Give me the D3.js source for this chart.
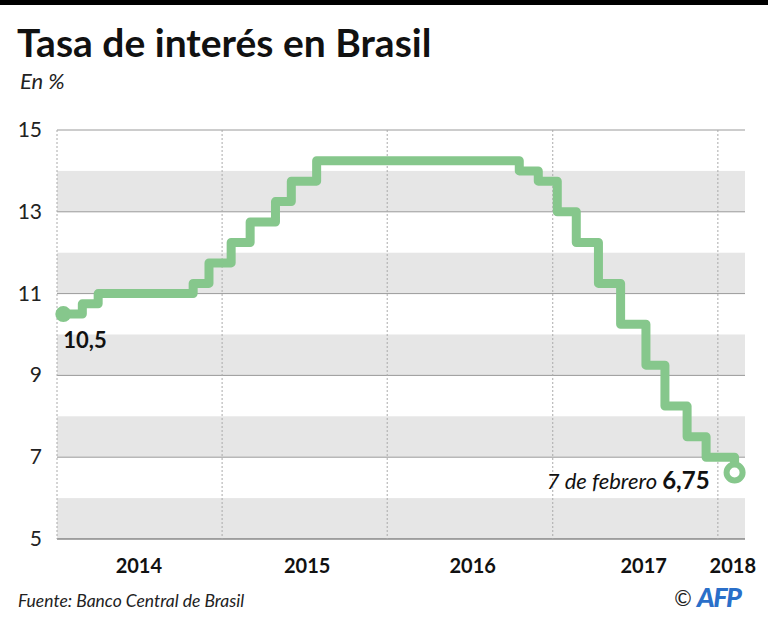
<!DOCTYPE html>
<html>
<head>
<meta charset="utf-8">
<script src="https://cdn.jsdelivr.net/npm/d3@7"></script>
<style>
  body { margin: 0; background: #fff; }
  svg { display: block; font-family: Lato, "Noto Sans", sans-serif; }
</style>
</head>
<body>
<div id="chart"></div>
<script>
// Selic rate changes (date of decision, rate in %)
const changeDates = [
  "2014-01-15", "2014-02-26", "2014-04-02", "2014-10-29", "2014-12-03",
  "2015-01-21", "2015-03-04", "2015-04-29", "2015-06-03", "2015-07-29",
  "2016-10-19", "2016-11-30", "2017-01-11", "2017-02-22", "2017-04-12",
  "2017-05-31", "2017-07-26", "2017-09-06", "2017-10-25", "2017-12-06",
  "2018-02-07"
];
const rates = [
  10.5, 10.75, 11, 11.25, 11.75,
  12.25, 12.75, 13.25, 13.75, 14.25,
  14, 13.75, 13, 12.25, 11.25,
  10.25, 9.25, 8.25, 7.5, 7,
  6.75
];
const yTicks = [5, 7, 9, 11, 13, 15];
const bandStarts = [5, 7, 9, 11, 13];
const yearBounds = ["2014-01-01", "2015-01-01", "2016-01-01", "2017-01-01", "2018-01-01"];
const yearLabels = ["2014", "2015", "2016", "2017", "2018"];
const yearLabelDates = ["2014-07-01", "2015-07-08", "2016-07-08", "2017-07-21", "2018-02-03"];

const width = 768, height = 623;
const margin = {top: 130, right: 23, bottom: 84, left: 57};
const parse = d3.timeParse("%Y-%m-%d");

const data = changeDates.map((d, i) => ({date: parse(d), value: rates[i]}));

const svg = d3.select("#chart").append("svg")
  .attr("width", width)
  .attr("height", height)
  .attr("viewBox", [0, 0, width, height]);

const x = d3.scaleTime()
  .domain([parse("2014-01-01"), parse("2018-03-02")])
  .range([margin.left, width - margin.right]);

const y = d3.scaleLinear()
  .domain([5, 15])
  .range([height - margin.bottom, margin.top]);

// top black rule
svg.append("rect").attr("x", 0).attr("y", 0).attr("width", width).attr("height", 5).attr("fill", "#000");

svg.append("text")
  .attr("x", 17).attr("y", 57)
  .attr("font-size", 39).attr("font-weight", 700)
  .attr("fill", "#111")
  .text("Tasa de interés en Brasil");

svg.append("text")
  .attr("x", 20).attr("y", 89)
  .attr("font-size", 22).attr("font-style", "italic")
  .attr("fill", "#222")
  .text("En %");

// grey bands between even values
svg.append("g")
  .selectAll("rect")
  .data(bandStarts)
  .join("rect")
  .attr("x", x.range()[0])
  .attr("width", x.range()[1] - x.range()[0])
  .attr("y", d => y(d + 1))
  .attr("height", d => y(d) - y(d + 1))
  .attr("fill", "#e6e6e6");

// horizontal grid lines
svg.append("g")
  .selectAll("line")
  .data(yTicks)
  .join("line")
  .attr("x1", x.range()[0])
  .attr("x2", x.range()[1])
  .attr("y1", d => y(d))
  .attr("y2", d => y(d))
  .attr("stroke", d => d === 5 ? "#555" : "#9a9a9a")
  .attr("stroke-width", 1);

// dotted year separators
svg.append("g")
  .selectAll("line")
  .data(yearBounds.map(parse))
  .join("line")
  .attr("x1", d => x(d))
  .attr("x2", d => x(d))
  .attr("y1", y(15))
  .attr("y2", y(5))
  .attr("stroke", "#aaa")
  .attr("stroke-width", 1)
  .attr("stroke-dasharray", "2,2");

// y labels
svg.append("g")
  .selectAll("text")
  .data(yTicks)
  .join("text")
  .attr("x", 42)
  .attr("y", d => y(d) + 7)
  .attr("text-anchor", "end")
  .attr("font-size", 21)
  .attr("fill", "#222")
  .text(d => d);

// x labels
svg.append("g")
  .selectAll("text")
  .data(yearLabels)
  .join("text")
  .attr("x", (d, i) => x(parse(yearLabelDates[i])))
  .attr("y", 573)
  .attr("text-anchor", "middle")
  .attr("font-size", 20)
  .attr("font-weight", 700)
  .attr("fill", "#111")
  .text(d => d);

// rate line
const line = d3.line()
  .x(d => x(d.date))
  .y(d => y(d.value))
  .curve(d3.curveStepAfter);

const green = "#86c78c";

svg.append("path")
  .datum(data)
  .attr("fill", "none")
  .attr("stroke", green)
  .attr("stroke-width", 9)
  .attr("stroke-linejoin", "round")
  .attr("d", line);

const first = data[0], last = data[data.length - 1];

svg.append("circle")
  .attr("cx", x(first.date)).attr("cy", y(first.value))
  .attr("r", 8).attr("fill", green);

svg.append("circle")
  .attr("cx", x(last.date)).attr("cy", y(last.value) + 5)
  .attr("r", 8).attr("fill", "#fff")
  .attr("stroke", green).attr("stroke-width", 6);

// annotations
svg.append("text")
  .attr("x", x(first.date))
  .attr("y", y(first.value) + 34)
  .attr("font-size", 22).attr("font-weight", 700)
  .attr("fill", "#111")
  .text(String(first.value).replace(".", ","));

const endLabel = svg.append("text")
  .attr("x", x(last.date) - 25)
  .attr("y", 489)
  .attr("text-anchor", "end")
  .attr("fill", "#111");
endLabel.append("tspan").attr("font-size", 22).attr("font-style", "italic").text("7 de febrero ");
endLabel.append("tspan").attr("font-size", 24).attr("font-weight", 700).text(String(last.value).replace(".", ","));

// footer
svg.append("text")
  .attr("x", 18).attr("y", 607)
  .attr("font-size", 17.5).attr("font-style", "italic")
  .attr("fill", "#222")
  .text("Fuente: Banco Central de Brasil");

svg.append("text")
  .attr("x", 683).attr("y", 606)
  .attr("text-anchor", "middle")
  .attr("font-size", 21)
  .attr("fill", "#222")
  .text("©");

svg.append("text")
  .attr("x", 697).attr("y", 607)
  .attr("font-size", 27).attr("font-weight", 900).attr("font-style", "italic")
  .attr("fill", "#2a6fc9")
  .attr("letter-spacing", -1.5)
  .text("AFP");
</script>
</body>
</html>
